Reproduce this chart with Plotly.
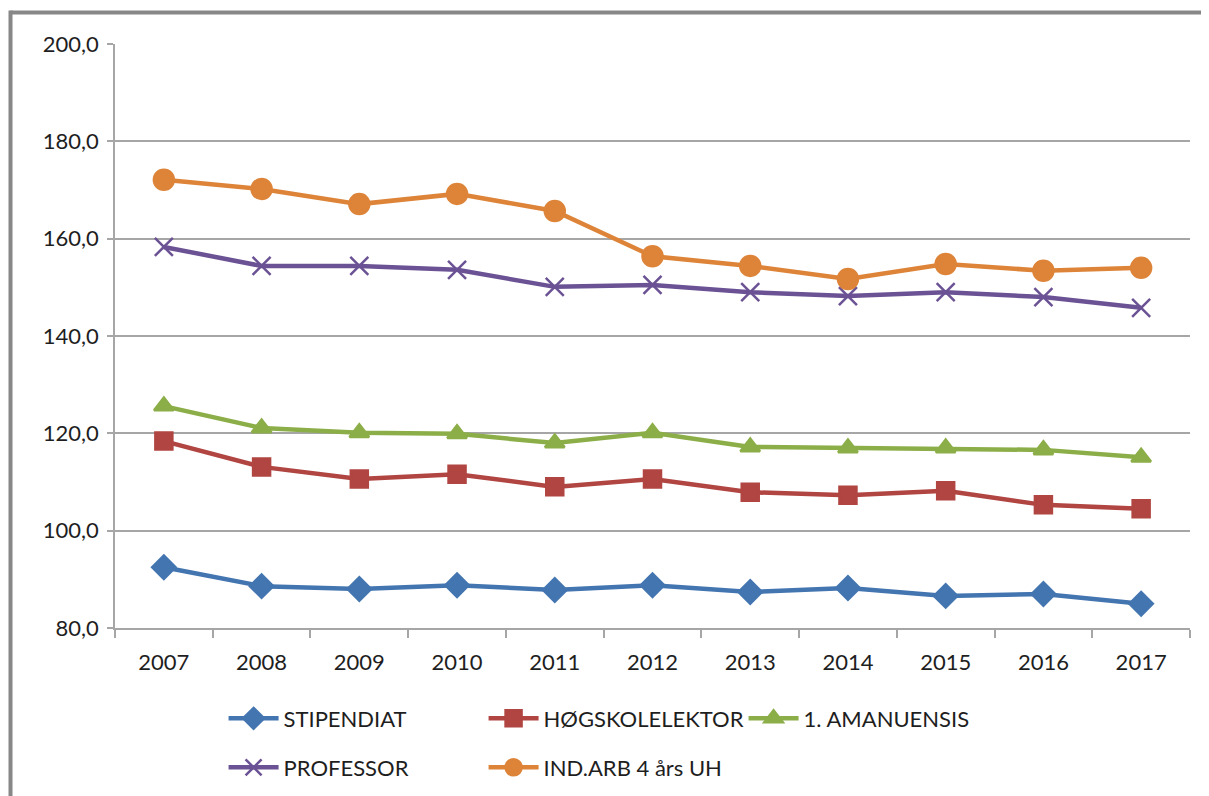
import plotly.graph_objects as go

years = ["2007", "2008", "2009", "2010", "2011", "2012", "2013", "2014", "2015", "2016", "2017"]
stipendiat = [92.5, 88.6, 88.0, 88.8, 87.8, 88.8, 87.4, 88.2, 86.6, 87.0, 85.0]
hogskolelektor = [118.4, 113.1, 110.6, 111.6, 109.0, 110.6, 107.9, 107.3, 108.2, 105.3, 104.5]
amanuensis = [125.6, 121.1, 120.1, 119.9, 118.0, 120.1, 117.2, 117.0, 117.0, 116.6, 115.1]
professor = [158.3, 154.4, 154.4, 153.6, 150.1, 150.5, 149.0, 148.2, 149.0, 148.0, 145.8]
indarb = [172.1, 170.2, 167.1, 169.2, 165.7, 156.4, 154.4, 151.7, 154.8, 153.4, 154.0]
y_ticks = [80, 100, 120, 140, 160, 180, 200]

FONT = "Lato, 'Open Sans', sans-serif"
TXT = "#1e1e1e"

series = [
    ("STIPENDIAT", stipendiat, "#4375B0", "diamond", 18, "legend"),
    ("HØGSKOLELEKTOR", hogskolelektor, "#B04541", "square", 17, "legend"),
    ("1. AMANUENSIS", amanuensis, "#8CAE48", "triangle-up", 17, "legend"),
    ("PROFESSOR", professor, "#6B5294", "x-thin-open", 18, "legend2"),
    ("IND.ARB 4 års UH", indarb, "#DD8439", "circle", 20, "legend2"),
]

fig = go.Figure()
for name, vals, color, sym, size, leg in series:
    fig.add_trace(go.Scatter(
        x=years, y=vals, name=name, mode="lines+markers",
        line=dict(color=color, width=4.5),
        marker=dict(symbol=sym, size=size, color=color,
                    line=dict(color=color, width=2.5)),
        legend=leg,
    ))

leg_common = dict(orientation="h", xanchor="left", yanchor="top",
                  entrywidth=195, entrywidthmode="pixels", itemwidth=50,
                  traceorder="normal", bgcolor="rgba(0,0,0,0)",
                  font=dict(family=FONT, size=22, color=TXT))

fig.update_layout(
    width=1201, height=788,
    margin=dict(l=107, r=19, t=36, b=168, autoexpand=False),
    paper_bgcolor="white", plot_bgcolor="white",
    font=dict(family=FONT, size=22, color=TXT),
    separators=", ",
    showlegend=True,
    legend=dict(x=0.101, y=-0.119, **leg_common),
    legend2=dict(x=0.101, y=-0.203, **leg_common),
)

fig.update_xaxes(
    type="category", range=[-0.5, 10.5],
    showline=True, linecolor="#A6A6A6", linewidth=1.5,
    ticks="outside", tickson="boundaries", ticklen=8, tickcolor="#A6A6A6", tickwidth=1.5,
    ticklabelstandoff=14,
    showgrid=False, tickfont=dict(family=FONT, size=22, color=TXT),
    fixedrange=True,
)
fig.update_yaxes(
    range=[80, 200], tickvals=y_ticks, tickformat=".1f",
    showline=True, linecolor="#A6A6A6", linewidth=1.5,
    ticks="outside", ticklen=6, tickcolor="#A6A6A6", tickwidth=1.5,
    ticklabelstandoff=4,
    showgrid=True, gridcolor="#A6A6A6", gridwidth=1.5, zeroline=False,
    tickfont=dict(family=FONT, size=22, color=TXT),
)

# outer chart frame (only its top and left edges are visible in the crop)
FRAME_X = -0.0972
FRAME_Y = 1.054
fig.add_shape(type="line", xref="paper", yref="paper",
              x0=FRAME_X, y0=FRAME_Y, x1=1.5, y1=FRAME_Y,
              line=dict(color="#878787", width=4), layer="below")
fig.add_shape(type="line", xref="paper", yref="paper",
              x0=FRAME_X, y0=FRAME_Y + 0.0034, x1=FRAME_X, y1=-0.5,
              line=dict(color="#878787", width=4), layer="below")

fig.write_html("out.html")
